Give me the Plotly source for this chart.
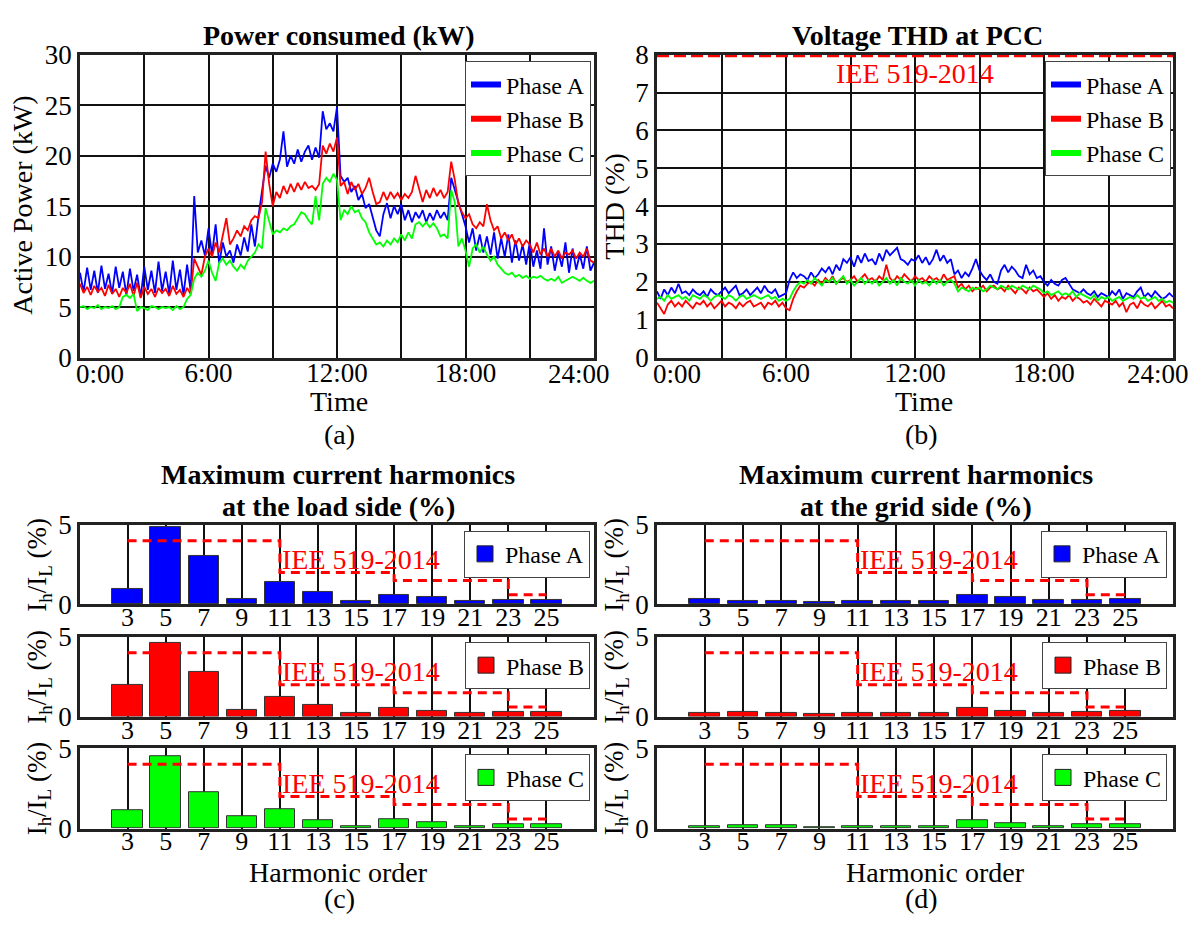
import numpy as np
import plotly.graph_objects as go

W, H = 1198, 928
FONT = "Liberation Serif"

phase_names = ["Phase A", "Phase B", "Phase C"]
phase_colors = ["#0000ff", "#ff0000", "#00ff00"]

# Active power per phase (kW), one sample every 10 minutes from 0:00 to 24:00
power_a = [
    8.4, 6.5, 8.9, 6.7, 8.6, 6.4,
    9.1, 6.8, 8.3, 6.3, 9.0, 6.9,
    8.5, 6.2, 8.8, 6.6, 8.2, 6.0,
    9.0, 6.7, 8.6, 6.4, 9.5, 6.6,
    8.5, 6.3, 9.6, 6.7, 8.7, 6.2,
    9.2, 6.6, 16.0, 10.4, 11.6, 10.1,
    12.8, 10.2, 13.2, 9.3, 11.4, 10.0,
    10.6, 9.4, 11.2, 10.1, 11.9, 10.5,
    13.2, 11.0, 14.0, 16.4, 19.0, 17.8,
    19.2, 18.4, 19.6, 22.4, 18.9, 20.0,
    19.2, 20.6, 19.4, 20.4, 21.0, 19.6,
    20.8, 19.8, 24.4, 22.6, 23.2, 22.4,
    24.8, 18.0, 17.4, 17.8, 16.4, 17.0,
    15.6, 16.2, 14.8, 15.2, 13.8, 12.6,
    12.0, 14.2, 15.3, 13.8, 15.0, 14.2,
    15.2, 13.6, 14.6, 13.4, 14.4, 13.8,
    14.6, 13.4, 14.3, 13.6, 14.6, 13.8,
    14.4, 13.6, 17.8, 16.6, 15.4, 14.2,
    13.0, 11.4, 12.8, 10.6, 12.2, 10.4,
    12.0, 10.2, 12.4, 9.8, 11.8, 10.0,
    12.2, 9.4, 11.6, 9.6, 11.2, 9.2,
    11.4, 9.0, 10.6, 8.8, 12.8, 9.2,
    11.0, 8.6, 10.4, 9.0, 11.4, 8.4,
    10.8, 8.7, 10.2, 8.8, 11.0, 8.6,
    9.4,
]
power_b = [
    7.3, 6.4, 7.0, 6.2, 7.1, 6.5,
    6.9, 6.1, 7.2, 6.3, 6.8, 6.0,
    6.9, 6.4, 7.3, 6.1, 7.4, 5.9,
    7.0, 6.3, 6.8, 6.0, 6.9, 6.4,
    6.8, 6.1, 7.1, 6.3, 6.7, 6.0,
    6.9, 6.3, 9.8, 9.0, 8.2, 10.0,
    10.8, 10.0, 11.4, 10.4, 12.2, 13.8,
    11.2, 11.8, 12.6, 12.0, 13.0, 12.6,
    13.6, 14.0, 13.8, 15.4, 20.4, 17.2,
    15.0, 16.4, 15.8, 17.0, 16.2, 17.2,
    16.4, 17.3, 16.6, 17.4, 16.8, 17.0,
    16.6, 17.2, 21.0, 20.2, 21.2, 20.4,
    21.8, 17.0, 17.4, 16.2, 17.4, 16.6,
    17.2, 16.2, 16.8, 17.8, 16.4, 15.2,
    15.4, 16.4, 15.6, 16.4, 15.8, 16.3,
    15.6, 16.2, 15.8, 16.4, 18.0, 16.8,
    15.4, 16.6, 15.8, 16.8, 16.0, 16.6,
    15.8, 16.4, 19.4, 17.6, 15.2, 14.4,
    13.8, 14.2, 13.2, 12.8, 13.4, 13.0,
    15.2, 13.6, 12.6, 13.0, 11.8, 12.4,
    11.6, 12.2, 11.2, 11.8, 11.0, 11.6,
    11.2, 10.4, 11.4, 10.2, 10.8, 10.0,
    10.8, 10.0, 10.6, 9.8, 10.4, 10.2,
    10.6, 9.8, 10.4, 10.0, 10.8, 9.6,
    9.4,
]
power_c = [
    5.0, 5.1, 4.8, 5.0, 4.9, 5.2,
    4.8, 5.0, 4.9, 5.1, 4.8, 5.0,
    6.0, 6.2, 5.9, 6.3, 4.6, 5.0,
    4.9, 4.7, 5.1, 5.0, 4.8, 5.0,
    4.9, 5.0, 4.7, 5.1, 4.8, 5.0,
    5.8, 6.2, 7.8, 8.4, 8.0, 8.6,
    9.6, 8.4, 7.6, 9.4, 9.8, 9.2,
    9.6, 9.0, 8.6, 9.2, 8.8, 9.6,
    10.0, 10.4, 11.2, 10.8, 14.8, 13.4,
    12.2, 12.6, 12.4, 12.8, 12.6, 13.0,
    13.2, 13.8, 14.4, 14.2, 13.6, 13.2,
    16.0, 13.6, 17.2, 17.8, 17.4, 18.2,
    17.6, 13.6, 14.6, 14.2, 15.0, 14.4,
    14.6, 13.8, 13.4, 12.4, 11.8, 11.2,
    11.4, 11.0, 11.6, 11.2, 11.8, 11.4,
    12.2, 11.6, 12.4, 11.8, 13.2, 13.4,
    13.0, 13.4, 12.9, 13.3, 12.8, 12.0,
    12.2, 11.8, 16.6, 15.4, 11.0, 11.8,
    10.6, 9.0, 10.8, 11.2, 10.4, 11.0,
    10.2, 9.6, 10.0, 9.2, 8.8, 8.4,
    8.2, 8.4, 8.0, 8.2, 7.9, 8.1,
    7.8, 8.0, 7.9, 8.1, 7.8, 7.6,
    7.8, 7.6, 8.0, 7.4, 7.6, 7.8,
    8.0, 7.8, 7.6, 7.9, 7.6, 7.4,
    7.6,
]

# Voltage THD at the PCC per phase (%), one sample every 10 minutes
thd_a = [
    1.75, 1.55, 1.8, 1.65, 1.85, 1.7,
    1.95, 1.7, 1.75, 1.65, 1.8, 1.7,
    1.65, 1.75, 1.6, 1.8, 1.7, 1.65,
    1.75, 1.85, 1.7, 1.8, 1.9, 1.65,
    1.7, 1.8, 1.65, 1.75, 1.85, 1.7,
    1.9, 1.75, 1.7, 1.8, 1.6, 1.65,
    1.7, 2.05, 2.25, 2.1, 2.2, 2.15,
    2.05, 2.25, 2.1, 2.2, 2.35, 2.25,
    2.4, 2.2, 2.45, 2.3, 2.6, 2.5,
    2.65, 2.4, 2.7, 2.5, 2.75, 2.55,
    2.6, 2.45, 2.75, 2.55, 2.85, 2.7,
    2.8, 2.9, 2.6, 2.55, 2.45, 2.6,
    2.55, 2.7, 2.5, 2.65, 2.45, 2.6,
    2.85, 2.55, 2.7, 2.5, 2.6, 2.2,
    2.3, 2.1, 2.25, 2.15, 2.35, 2.6,
    2.3, 2.15, 2.05, 2.2, 2.0, 1.95,
    2.3, 2.45, 2.25, 2.4, 2.3, 2.15,
    2.1, 2.45, 2.2, 2.3, 2.1, 2.15,
    2.0, 1.9, 2.05, 1.95, 1.9, 2.05,
    2.1, 1.95, 1.8, 1.75, 1.7, 1.8,
    1.7, 1.65, 1.75, 1.6, 1.7, 1.65,
    1.6, 1.75, 1.65, 1.8, 1.55, 1.7,
    1.65, 1.6, 1.75, 1.85, 1.6, 1.7,
    1.6, 1.75, 1.65, 1.55, 1.6, 1.7,
    1.6,
]
thd_b = [
    1.45, 1.3, 1.15, 1.4, 1.5, 1.35,
    1.45, 1.35, 1.5, 1.4, 1.3, 1.45,
    1.4, 1.5, 1.35, 1.45, 1.3, 1.4,
    1.5, 1.35, 1.45, 1.4, 1.3, 1.45,
    1.35, 1.45, 1.5, 1.35, 1.4, 1.45,
    1.3, 1.45, 1.4, 1.5, 1.35, 1.45,
    1.3, 1.25, 1.55, 1.75, 1.9, 1.85,
    1.95, 2.0, 1.9, 2.05, 1.95, 2.1,
    2.0, 2.15, 1.95, 2.05, 2.1, 2.0,
    2.05, 2.15, 2.0, 2.1, 2.2, 2.05,
    2.1, 2.0, 2.15, 2.05, 2.45, 2.1,
    2.0, 2.15, 2.05, 2.2, 2.1, 2.0,
    2.15, 2.05, 2.1, 2.0, 2.15, 2.05,
    2.1, 2.0, 2.2, 2.05, 2.1, 2.15,
    1.85, 1.95, 1.8, 1.9, 1.75, 1.85,
    1.8, 1.9, 1.75, 1.85, 1.9, 1.8,
    1.85, 1.75, 1.9, 1.8, 1.7, 1.85,
    1.8, 1.7, 1.85, 1.75, 1.8, 1.7,
    1.6, 1.7, 1.55, 1.65, 1.5, 1.6,
    1.55, 1.65, 1.5, 1.6, 1.55, 1.45,
    1.5, 1.4, 1.55, 1.45, 1.35, 1.5,
    1.45, 1.4, 1.5, 1.35, 1.45, 1.2,
    1.4, 1.45, 1.3, 1.5, 1.4, 1.35,
    1.45, 1.3, 1.4, 1.5, 1.35, 1.4,
    1.3,
]
thd_c = [
    1.55, 1.6, 1.5, 1.65, 1.55, 1.6,
    1.65, 1.55, 1.6, 1.5, 1.65, 1.6,
    1.55, 1.65, 1.6, 1.5, 1.6, 1.65,
    1.6, 1.55, 1.65, 1.6, 1.5, 1.6,
    1.65, 1.55, 1.6, 1.65, 1.6, 1.55,
    1.6, 1.65, 1.55, 1.6, 1.5, 1.55,
    1.5, 1.55, 1.75, 1.9, 2.0, 1.95,
    2.05, 1.95, 2.1, 2.0, 1.9, 2.05,
    2.0, 2.1, 1.95, 2.05, 2.15, 1.95,
    2.05, 1.9, 2.0, 2.1, 1.95, 2.05,
    1.95, 2.05, 1.9, 2.0, 2.1, 1.95,
    2.05, 1.9, 2.1, 2.0, 1.95, 2.05,
    1.9, 2.05, 1.95, 2.0, 1.9, 2.05,
    1.95, 2.05, 1.9, 2.0, 2.05, 1.95,
    1.75, 1.85, 1.8, 1.75, 1.85, 1.8,
    1.85, 1.75, 1.8, 1.9, 1.85, 1.8,
    1.9, 1.85, 1.8, 1.9, 1.85, 1.8,
    1.9, 1.85, 1.8, 1.9, 1.85, 1.8,
    1.7, 1.75, 1.65, 1.7, 1.75, 1.65,
    1.7, 1.65, 1.75, 1.6, 1.7, 1.65,
    1.6, 1.55, 1.65, 1.5, 1.6, 1.55,
    1.6, 1.5, 1.55, 1.6, 1.5, 1.55,
    1.6, 1.55, 1.65, 1.55, 1.6, 1.5,
    1.55, 1.6, 1.5, 1.55, 1.45, 1.5,
    1.45,
]
thd_limit = 8.0  # IEEE 519-2014 voltage THD limit (%)

time_tick_hours = [0, 6, 12, 18, 24]
time_tick_labels = ["0:00", "6:00", "12:00", "18:00", "24:00"]

# Maximum individual current harmonics, Ih/IL (%)
harmonic_orders = [3, 5, 7, 9, 11, 13, 15, 17, 19, 21, 23, 25]
load_a = [0.95, 4.86, 3.06, 0.34, 1.41, 0.79, 0.20, 0.56, 0.46, 0.22, 0.30, 0.30]
load_b = [1.96, 4.60, 2.79, 0.40, 1.23, 0.71, 0.22, 0.53, 0.36, 0.22, 0.28, 0.32]
load_c = [1.14, 4.48, 2.29, 0.76, 1.22, 0.54, 0.12, 0.58, 0.38, 0.12, 0.26, 0.26]
grid_a = [0.36, 0.24, 0.20, 0.16, 0.20, 0.18, 0.20, 0.58, 0.48, 0.26, 0.30, 0.32]
grid_b = [0.26, 0.30, 0.20, 0.18, 0.20, 0.20, 0.24, 0.52, 0.38, 0.24, 0.32, 0.36]
grid_c = [0.14, 0.20, 0.18, 0.10, 0.16, 0.12, 0.12, 0.50, 0.34, 0.12, 0.26, 0.26]

# IEEE 519-2014 current limits per harmonic band [3-11), [11-17), [17-23), [23-35)
ieee_bounds = [3, 11, 17, 23, 25]
ieee_limits = [4.0, 2.0, 1.5, 0.6]
ieee_label = "IEE 519-2014"


def px_x(x):
    return x / W


def px_y(y):
    return 1 - y / H


# panel geometry (pixels)
LEFT_X = (80, 594)
RIGHT_X = (657, 1173)
TOP_Y = (41, 354)
BAR_ROWS = [(527, 609), (642.7, 725), (757.7, 840.7)]


def dom_x(span):
    return [px_x(span[0]), px_x(span[1])]


def dom_y(span):
    return [px_y(span[1]), px_y(span[0])]


TICKFONT = dict(family=FONT, size=27, color="black")


def framed(**kw):
    d = dict(showline=True, mirror=True, linecolor="#222", linewidth=2.5,
             zeroline=False, ticks="", ticklen=0, tickfont=TICKFONT, fixedrange=True)
    d.update(kw)
    return d


fig = go.Figure()

# ---------- (a) active power ----------
for name, vals, col in zip(phase_names, [power_a, power_b, power_c], phase_colors):
    hrs = np.arange(len(vals)) / 6.0
    fig.add_trace(go.Scatter(x=hrs, y=vals, mode="lines", line=dict(color=col, width=1.8),
                             xaxis="x", yaxis="y", showlegend=False, hoverinfo="skip"))
    fig.add_trace(go.Scatter(x=[None], y=[None], mode="lines", line=dict(color=col, width=6),
                             name=name, legend="legend", xaxis="x", yaxis="y"))

# ---------- (b) voltage THD ----------
for name, vals, col in zip(phase_names, [thd_a, thd_b, thd_c], phase_colors):
    hrs = np.arange(len(vals)) / 6.0
    fig.add_trace(go.Scatter(x=hrs, y=vals, mode="lines", line=dict(color=col, width=1.8),
                             xaxis="x2", yaxis="y2", showlegend=False, hoverinfo="skip"))
    fig.add_trace(go.Scatter(x=[None], y=[None], mode="lines", line=dict(color=col, width=6),
                             name=name, legend="legend2", xaxis="x2", yaxis="y2"))
fig.add_trace(go.Scatter(x=[0, 24], y=[thd_limit, thd_limit], mode="lines",
                         line=dict(color="#ff0000", width=5, dash="12px,5px"),
                         xaxis="x2", yaxis="y2", showlegend=False, hoverinfo="skip"))

# ---------- (c)/(d) harmonic bars ----------
bar_sets = [
    [load_a, load_b, load_c],
    [grid_a, grid_b, grid_c],
]
axis_no = 3
legend_no = 3
for side in range(2):
    for row in range(3):
        vals = bar_sets[side][row]
        xa, ya = f"x{axis_no}", f"y{axis_no}"
        fig.add_trace(go.Bar(x=harmonic_orders, y=vals, width=1.6,
                             marker=dict(color=phase_colors[row], line=dict(color="#333", width=1)),
                             xaxis=xa, yaxis=ya, showlegend=False, hoverinfo="skip"))
        fig.add_trace(go.Scatter(x=ieee_bounds, y=ieee_limits + [ieee_limits[-1]], mode="lines",
                                 line=dict(color="#ff0000", width=3, dash="9px,6px", shape="hv"),
                                 xaxis=xa, yaxis=ya, showlegend=False, hoverinfo="skip"))
        fig.add_trace(go.Scatter(x=[None], y=[None], mode="markers",
                                 marker=dict(symbol="square", size=18, color=phase_colors[row],
                                             line=dict(color="#222", width=1)),
                                 name=phase_names[row], legend=f"legend{legend_no}",
                                 xaxis=xa, yaxis=ya))
        axis_no += 1
        legend_no += 1

layout = dict(
    width=W, height=H,
    margin=dict(l=0, r=0, t=0, b=0),
    paper_bgcolor="white", plot_bgcolor="white",
    font=dict(family=FONT, color="black"),
    bargap=0,
)

# inner hour labels on the axis; 3-hourly grid through minor lines
inner_hours = time_tick_hours[1:-1]
inner_labels = time_tick_labels[1:-1]
time_axis = dict(range=[0, 24], tickvals=inner_hours, ticktext=inner_labels,
                 showgrid=True, gridcolor="#111", gridwidth=2, ticklabelstandoff=-11,
                 minor=dict(tick0=0, dtick=3, showgrid=True, gridcolor="#111", gridwidth=2,
                            ticks=""))

layout["xaxis"] = framed(domain=dom_x(LEFT_X), anchor="y", **time_axis)
layout["yaxis"] = framed(domain=dom_y(TOP_Y), anchor="x", range=[0, 30],
                         tickvals=list(range(0, 31, 5)), showgrid=True, gridcolor="#111", gridwidth=2)
layout["xaxis2"] = framed(domain=dom_x(RIGHT_X), anchor="y2", **time_axis)
layout["yaxis2"] = framed(domain=dom_y(TOP_Y), anchor="x2", range=[0, 8],
                          tickvals=list(range(0, 9)), showgrid=True, gridcolor="#111", gridwidth=2,
                          layer="below traces")

axis_no = 3
for xspan in (LEFT_X, RIGHT_X):
    for yspan in BAR_ROWS:
        layout[f"xaxis{axis_no}"] = framed(domain=dom_x(xspan), anchor=f"y{axis_no}",
                                           range=[0.5, 27.5], tickvals=harmonic_orders,
                                           ticktext=[str(h) for h in harmonic_orders],
                                           tickfont=dict(family=FONT, size=26, color="black"),
                                           showgrid=True, gridcolor="#111", gridwidth=2,
                                           ticklabelstandoff=-12)
        layout[f"yaxis{axis_no}"] = framed(domain=dom_y(yspan), anchor=f"x{axis_no}",
                                           range=[0, 5], tickvals=[0, 5], showgrid=False)
        axis_no += 1

legend_style = dict(xanchor="right", yanchor="top", bgcolor="white", bordercolor="#444",
                    borderwidth=1, font=dict(family=FONT, size=24, color="black"),
                    tracegroupgap=0)
layout["legend"] = dict(x=px_x(591), y=px_y(48), **legend_style)
layout["legend2"] = dict(x=px_x(1171), y=px_y(48), **legend_style)
legend_tops = [533, 648, 764]
ln = 3
for right_edge in (590, 1167):
    for top in legend_tops:
        layout[f"legend{ln}"] = dict(x=px_x(right_edge), y=px_y(top), **legend_style)
        ln += 1

ann = []


def text(x, y, s, size=28, bold=False, color="black", angle=0, xanchor="center", **kw):
    ann.append(dict(x=x, y=y, xref=kw.pop("xref", "paper"), yref=kw.pop("yref", "paper"),
                    text=f"<b>{s}</b>" if bold else s, showarrow=False,
                    font=dict(family=FONT, size=size, color=color), textangle=angle,
                    xanchor=xanchor, yanchor="middle", **kw))


# titles
text(px_x(339), px_y(21), "Power consumed (kW)", bold=True)
text(px_x(917), px_y(21), "Voltage THD at PCC", bold=True)
text(px_x(338), px_y(475), "Maximum current harmonics", bold=True)
text(px_x(338), px_y(508), "at the load side (%)", bold=True)
text(px_x(916), px_y(475), "Maximum current harmonics", bold=True)
text(px_x(916), px_y(508), "at the grid side (%)", bold=True)

# axis titles and panel letters
text(px_x(23), px_y(197), "Active Power (kW)", angle=-90)
text(px_x(615), px_y(197), "THD (%)", angle=-90)
text(px_x(339), px_y(399), "Time")
text(px_x(924), px_y(399), "Time")
text(px_x(340), px_y(434), "(a)")
text(px_x(921), px_y(434), "(b)")
text(px_x(338), px_y(886), "Harmonic order")
text(px_x(935), px_y(886), "Harmonic order")
text(px_x(340), px_y(913), "(c)")
text(px_x(921), px_y(913), "(d)")
for yspan in BAR_ROWS:
    mid = (yspan[0] + yspan[1]) / 2
    text(px_x(39), px_y(mid), "I<sub>h</sub>/I<sub>L</sub> (%)", size=27, angle=-90)
    text(px_x(616), px_y(mid), "I<sub>h</sub>/I<sub>L</sub> (%)", size=27, angle=-90)

# end labels of the time axes
for xa in ("x", "x2"):
    text(time_tick_hours[0], px_y(371), time_tick_labels[0], size=27, xanchor="left",
         xref=xa, xshift=-6)
    text(time_tick_hours[-1], px_y(371), time_tick_labels[-1], size=27, xanchor="right",
         xref=xa, xshift=18)

# limit labels
text(12, 7.5, ieee_label, color="#ff0000", xref="x2", yref="y2")
for n in range(3, 9):
    text(11, 2.8, ieee_label, color="#ff0000", xanchor="left", xref=f"x{n}", yref=f"y{n}")

layout["annotations"] = ann
fig.update_layout(**layout)
fig.write_html("out.html")
